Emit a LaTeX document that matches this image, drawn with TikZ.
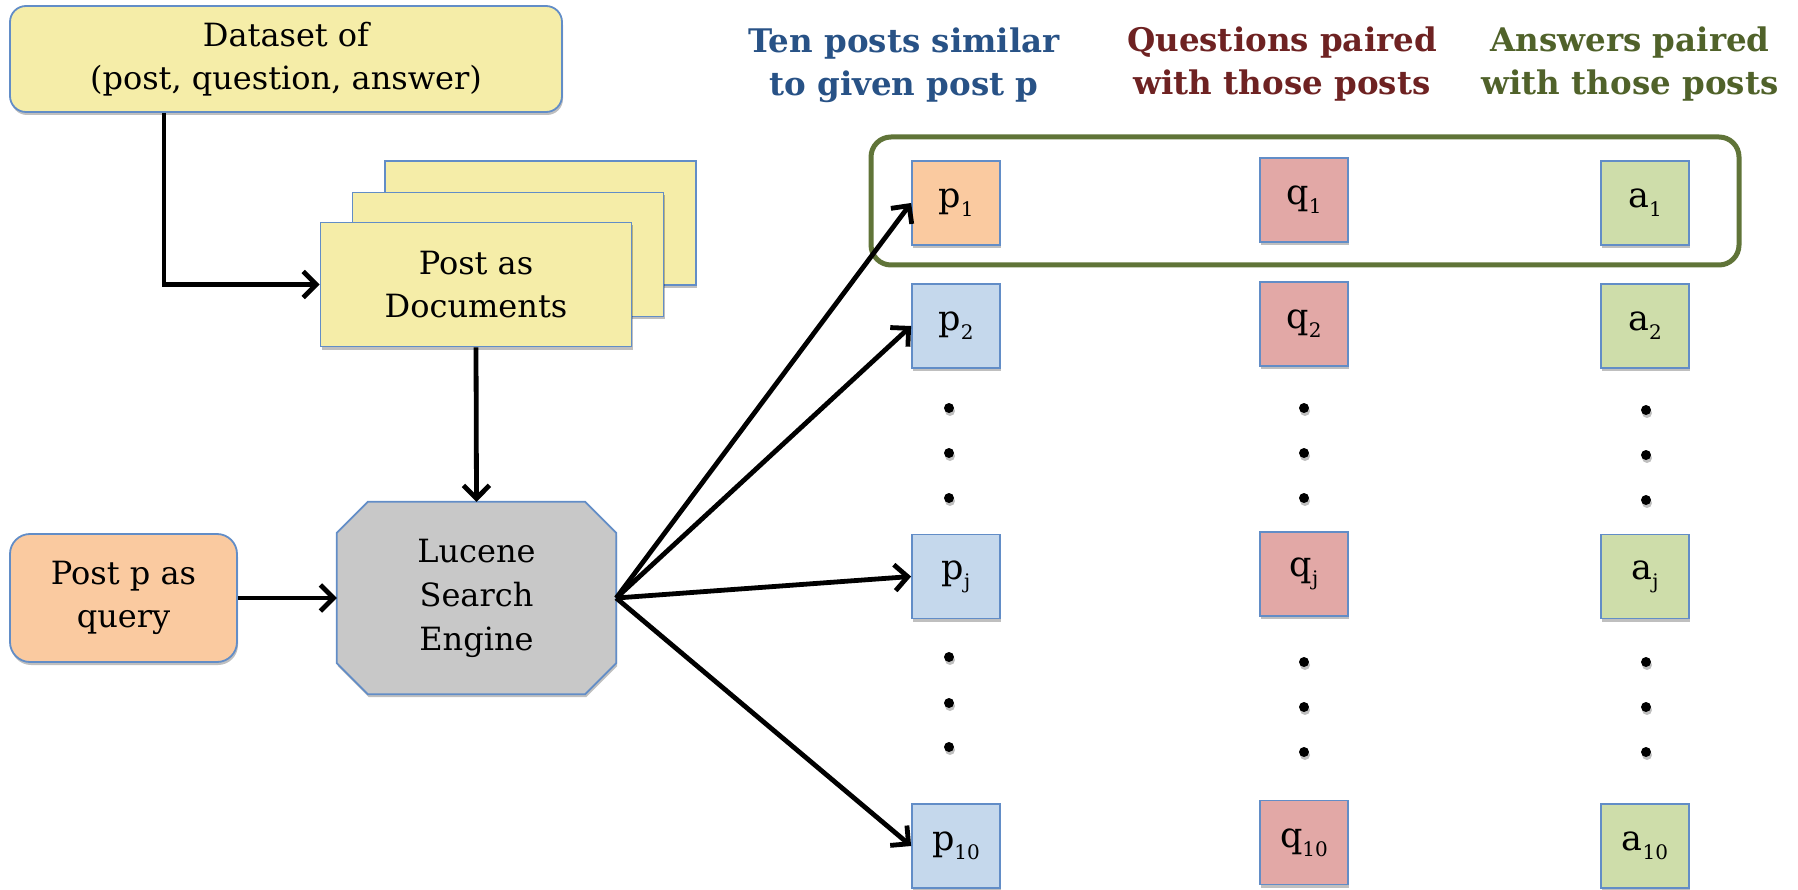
\documentclass[tikz,border=0pt]{standalone}
\usepackage{fontspec}
\setmainfont{DejaVu Serif}
\usetikzlibrary{arrows.meta,shadows,calc,backgrounds}
\definecolor{bordc}{RGB}{98,141,199}
\definecolor{yel}{RGB}{245,237,168}
\definecolor{peach}{RGB}{250,202,160}
\definecolor{lgray}{RGB}{200,200,200}
\definecolor{lblue}{RGB}{197,216,236}
\definecolor{qpink}{RGB}{226,168,166}
\definecolor{lgreen}{RGB}{206,221,170}
\definecolor{hblue}{RGB}{40,82,134}
\definecolor{hred}{RGB}{110,34,34}
\definecolor{hgreen}{RGB}{80,98,42}
\definecolor{framec}{RGB}{96,116,56}
\newcommand{\sbs}[1]{\raisebox{-0.26em}{\fontsize{20}{20}\selectfont #1}}
\begin{document}
\begin{tikzpicture}[x=1pt,y=-1pt,
  shad/.style={drop shadow={shadow xshift=1pt,shadow yshift=-3pt,opacity=0.25,fill=black}},
  box/.style={draw=bordc,line width=1.8pt,align=center,inner sep=0pt,
    font=\fontsize{32}{43}\selectfont,shad},
  item/.style={box,minimum width=88pt,minimum height=84pt,font=\fontsize{35}{40}\selectfont},
  head/.style={align=center,font=\fontsize{32.5}{43}\selectfont\bfseries},
  arr/.style={line width=4.8pt,-{Straight Barb[length=13pt,width=26pt]}},
  dot/.style={fill=black,shad}]
\useasboundingbox (0,0) rectangle (1798,890);

% left part
\node[box,fill=yel,rounded corners=16pt,minimum width=552pt,minimum height=106pt] (ds) at (286,59) {Dataset of\\(post, question, answer)};
\node[box,fill=yel,minimum width=311pt,minimum height=124pt] (docB) at (540.5,223) {};
\node[box,fill=yel,minimum width=311pt,minimum height=124pt] (docM) at (508,254.5) {};
\node[box,fill=yel,minimum width=311pt,minimum height=124pt] (docF) at (476,284.5) {Post as\\Documents};
\node[box,fill=peach,rounded corners=20pt,minimum width=227pt,minimum height=128pt] (query) at (123.5,598) {Post p as\\query};
\node[align=center,inner sep=0pt,font=\fontsize{32}{44}\selectfont,minimum width=279pt,minimum height=192pt] (lu) at (476.5,598) {Lucene\\Search\\Engine};
\begin{scope}[on background layer]
\filldraw[fill=lgray,draw=bordc,line width=1.8pt,shad]
  ($(lu.north west)+(31,0)$) -- ($(lu.north east)+(-31,0)$) -- ($(lu.north east)+(0,31)$)
  -- ($(lu.south east)+(0,-31)$) -- ($(lu.south east)+(-31,0)$) -- ($(lu.south west)+(31,0)$)
  -- ($(lu.south west)+(0,-31)$) -- ($(lu.north west)+(0,31)$) -- cycle;
\end{scope}

\draw[arr] ([xshift=-122pt]ds.south) |- (docF.west);
\draw[arr] (docF.south) -- (lu.north);
\draw[arr] (query.east) -- (lu.west);

% headers
\node[head,text=hblue] (h1) at (904,65) {Ten posts similar\\to given post p};
\node[head,text=hred] (h2) at (1282,64) {Questions paired\\with those posts};
\node[head,text=hgreen] (h3) at (1630,64) {Answers paired\\with those posts};

% group frame
\node[draw=framec,line width=5pt,rounded corners=20pt,minimum width=868pt,minimum height=128pt] (grp) at (1305,201) {};

% items
\node[item,fill=peach] (p1) at (956,203) {p\sbs{1}};
\node[item,fill=lblue] (p2) at (956,326) {p\sbs{2}};
\node[item,fill=lblue] (pj) at (956,576.5) {p\sbs{j}};
\node[item,fill=lblue] (p10) at (956,846) {p\sbs{10}};
\node[item,fill=qpink] (q1) at (1304,200) {q\sbs{1}};
\node[item,fill=qpink] (q2) at (1304,324) {q\sbs{2}};
\node[item,fill=qpink] (qj) at (1304,574) {q\sbs{j}};
\node[item,fill=qpink] (q10) at (1304,842.5) {q\sbs{10}};
\node[item,fill=lgreen] (a1) at (1645,203) {a\sbs{1}};
\node[item,fill=lgreen] (a2) at (1645,326) {a\sbs{2}};
\node[item,fill=lgreen] (aj) at (1645,576.5) {a\sbs{j}};
\node[item,fill=lgreen] (a10) at (1645,846) {a\sbs{10}};

% dots
\foreach \y in {408,453,498,657,703,747} \fill[dot] (949,\y) circle (5);
\foreach \y in {408,453,498,662,707,752} \fill[dot] (1304,\y) circle (5);
\foreach \y in {410,455,500,662,707,752} \fill[dot] (1646,\y) circle (5);

% fan arrows
\coordinate (fan) at (lu.east);
\draw[arr] (fan) -- (p1.west);
\draw[arr] (fan) -- (p2.west);
\draw[arr] (fan) -- (pj.west);
\draw[arr] (fan) -- (p10.west);
\end{tikzpicture}
\end{document}
